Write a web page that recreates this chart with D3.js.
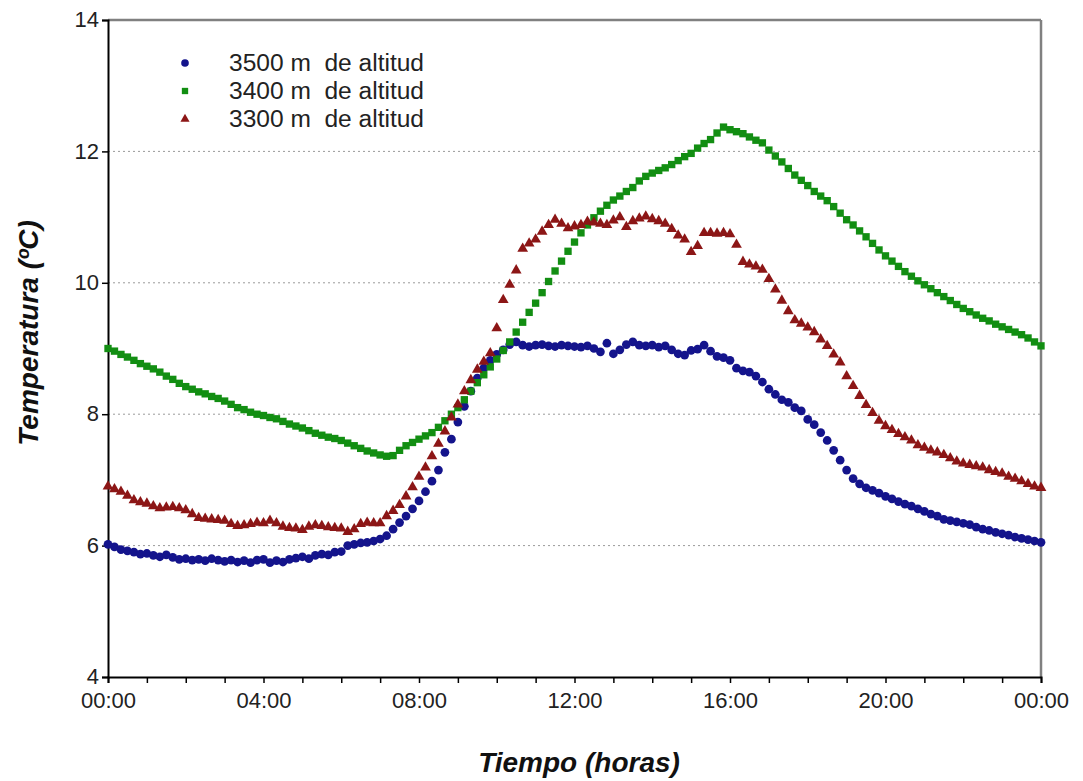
<!DOCTYPE html>
<html>
<head>
<meta charset="utf-8">
<script src="https://cdn.jsdelivr.net/npm/d3@7"></script>
<style>
body { margin: 0; background: #fff; }
svg text { font-family: "Liberation Sans", Arial, sans-serif; fill: #222; }
</style>
</head>
<body>
<svg id="chart" width="1083" height="781"></svg>
<script>
// series names
var seriesNames = ["3500 m  de altitud", "3400 m  de altitud", "3300 m  de altitud"];

// readings every 10 minutes, 00:00 -> 24:00
var stepMinutes = 10;

var t3500 = [6.02,5.98,5.94,5.92,5.90,5.87,5.88,5.85,5.83,5.86,5.82,5.79,5.80,5.78,5.79,5.77,5.80,5.78,5.76,5.78,
	5.75,5.77,5.74,5.78,5.79,5.74,5.77,5.75,5.79,5.81,5.83,5.80,5.85,5.87,5.86,5.90,5.91,6.00,6.02,6.04,
	6.05,6.07,6.10,6.15,6.25,6.35,6.45,6.56,6.68,6.82,6.98,7.15,7.42,7.62,7.88,8.12,8.35,8.55,8.70,8.82,
	8.91,8.98,9.06,9.10,9.05,9.03,9.05,9.06,9.04,9.03,9.05,9.04,9.03,9.02,9.04,9.00,8.95,9.08,8.92,8.98,
	9.06,9.10,9.05,9.04,9.05,9.02,9.04,8.98,8.92,8.90,8.97,8.99,9.05,8.96,8.88,8.86,8.82,8.70,8.66,8.64,
	8.58,8.49,8.38,8.30,8.22,8.18,8.10,8.05,7.92,7.84,7.72,7.60,7.45,7.30,7.15,7.02,6.94,6.88,6.84,6.80,
	6.75,6.71,6.67,6.63,6.60,6.56,6.52,6.48,6.45,6.40,6.38,6.36,6.34,6.32,6.28,6.25,6.23,6.20,6.18,6.16,
	6.13,6.11,6.09,6.07,6.05];

var t3400 = [9.00,8.96,8.91,8.87,8.82,8.77,8.73,8.69,8.64,8.58,8.53,8.47,8.42,8.38,8.34,8.31,8.27,8.24,8.20,8.15,
	8.10,8.07,8.03,8.00,7.98,7.95,7.93,7.89,7.85,7.82,7.79,7.75,7.71,7.68,7.65,7.63,7.60,7.56,7.52,7.48,
	7.44,7.41,7.38,7.36,7.37,7.45,7.52,7.57,7.62,7.67,7.72,7.80,7.90,8.00,8.10,8.22,8.35,8.48,8.60,8.72,
	8.84,8.97,9.10,9.25,9.40,9.55,9.69,9.85,10.02,10.18,10.33,10.48,10.62,10.76,10.88,10.99,11.09,11.18,11.26,11.32,
	11.39,11.45,11.55,11.62,11.67,11.71,11.75,11.80,11.86,11.92,11.97,12.05,12.12,12.18,12.28,12.37,12.33,12.30,12.27,12.22,
	12.17,12.13,12.02,11.93,11.84,11.74,11.64,11.56,11.48,11.39,11.32,11.25,11.16,11.06,10.96,10.88,10.79,10.70,10.60,10.50,
	10.41,10.33,10.25,10.17,10.10,10.03,9.97,9.91,9.85,9.79,9.73,9.67,9.61,9.56,9.51,9.46,9.42,9.37,9.33,9.29,
	9.25,9.21,9.16,9.10,9.04];

var t3300 = [6.90,6.86,6.82,6.76,6.69,6.66,6.64,6.60,6.57,6.58,6.59,6.57,6.54,6.48,6.42,6.41,6.40,6.39,6.38,6.33,
	6.30,6.31,6.33,6.35,6.34,6.38,6.34,6.29,6.27,6.26,6.24,6.29,6.31,6.30,6.28,6.27,6.26,6.21,6.25,6.33,
	6.35,6.34,6.34,6.45,6.53,6.62,6.75,6.89,7.05,7.19,7.36,7.55,7.74,7.95,8.15,8.35,8.52,8.68,8.80,8.93,
	9.31,9.74,9.97,10.19,10.52,10.60,10.66,10.78,10.88,10.96,10.90,10.83,10.86,10.88,10.93,10.92,10.90,10.88,10.95,11.00,
	10.85,10.94,10.98,11.01,10.97,10.94,10.90,10.82,10.72,10.66,10.47,10.56,10.76,10.76,10.75,10.76,10.74,10.58,10.32,10.28,
	10.25,10.20,10.06,9.90,9.73,9.57,9.43,9.38,9.32,9.25,9.14,9.04,8.91,8.79,8.58,8.43,8.28,8.14,8.02,7.90,
	7.82,7.76,7.70,7.65,7.60,7.53,7.49,7.45,7.42,7.38,7.33,7.28,7.25,7.23,7.21,7.19,7.15,7.12,7.10,7.05,
	7.02,6.98,6.94,6.90,6.88];

var seriesColors = ["#14148c", "#128e12", "#8c1616"];
var seriesShapes = [d3.symbolCircle, d3.symbolSquare, d3.symbolTriangle];
var seriesSizes = [60, 54, 50];

var xTicksMajor = [0, 240, 480, 720, 960, 1200, 1440];
var xTickLabels = ["00:00", "04:00", "08:00", "12:00", "16:00", "20:00", "00:00"];
var yTicks = [4, 6, 8, 10, 12, 14];

var svg = d3.select("#chart");
var margin = {top: 20, right: 42, bottom: 104, left: 108};
var width = 1083 - margin.left - margin.right,
	height = 781 - margin.top - margin.bottom;

var x = d3.scaleLinear().domain([0, 1440]).range([0, width]);
var y = d3.scaleLinear().domain([4, 14]).range([height, 0]);

var g = svg.append("g")
	.attr("transform", "translate(" + margin.left + "," + margin.top + ")");

// dotted grid
g.selectAll(".grid")
	.data([6, 8, 10, 12])
	.enter().append("line")
	.attr("class", "grid")
	.attr("x1", 0).attr("x2", width)
	.attr("y1", function(d) { return y(d); })
	.attr("y2", function(d) { return y(d); })
	.attr("stroke", "#9a9a9a")
	.attr("stroke-width", 1)
	.attr("stroke-dasharray", "2,3");

// frame top / right
g.append("line").attr("x1", 0).attr("x2", width).attr("y1", 0).attr("y2", 0)
	.attr("stroke", "#808080").attr("stroke-width", 2.5);
g.append("line").attr("x1", width).attr("x2", width).attr("y1", 0).attr("y2", height)
	.attr("stroke", "#808080").attr("stroke-width", 2.5);

// x axis
var xAxis = g.append("g")
	.attr("transform", "translate(0," + height + ")")
	.call(d3.axisBottom(x)
		.tickValues(d3.range(0, 1441, 60))
		.tickSize(6)
		.tickFormat(function(d) {
			var k = xTicksMajor.indexOf(d);
			return k < 0 ? "" : xTickLabels[k];
		}));
xAxis.select(".domain").attr("stroke", "#000").attr("stroke-width", 2);
xAxis.selectAll(".tick line").attr("stroke", "#000").attr("stroke-width", 1.5);
xAxis.selectAll(".tick text")
	.attr("dy", "0.71em")
	.attr("y", 15)
	.style("font-size", "22px")
	.style("fill", "#222");

// y axis
var yAxis = g.append("g")
	.call(d3.axisLeft(y).tickValues(yTicks).tickSize(6).tickFormat(d3.format("d")));
yAxis.select(".domain").attr("stroke", "#000").attr("stroke-width", 2);
yAxis.selectAll(".tick line").attr("stroke", "#000").attr("stroke-width", 1.5);
yAxis.selectAll(".tick text")
	.attr("x", -9)
	.attr("dy", "0.3em")
	.style("font-size", "22px")
	.style("fill", "#222");

// points
[t3500, t3400, t3300].forEach(function(values, s) {
	g.selectAll(".pt" + s)
		.data(values)
		.enter().append("path")
		.attr("class", "pt" + s)
		.attr("transform", function(d, i) {
			return "translate(" + x(i * stepMinutes) + "," + y(d) + ")";
		})
		.attr("d", d3.symbol().type(seriesShapes[s]).size(seriesSizes[s]))
		.attr("fill", seriesColors[s]);
});

// legend
var legend = svg.append("g").attr("transform", "translate(185,63)");
seriesNames.forEach(function(name, s) {
	var row = legend.append("g").attr("transform", "translate(0," + (s * 28) + ")");
	row.append("path")
		.attr("d", d3.symbol().type(seriesShapes[s]).size(seriesSizes[s] - 14))
		.attr("fill", seriesColors[s]);
	row.append("text")
		.attr("x", 44)
		.attr("y", 8)
		.style("font-size", "23px")
		.attr("xml:space", "preserve")
		.attr("textLength", 195)
		.attr("lengthAdjust", "spacingAndGlyphs")
		.text(name);
});

// axis titles
svg.append("text")
	.attr("x", 579)
	.attr("y", 772)
	.attr("text-anchor", "middle")
	.style("font-size", "28px")
	.style("font-weight", "bold")
	.style("font-style", "italic")
	.style("fill", "#111")
	.text("Tiempo (horas)");

svg.append("text")
	.attr("transform", "translate(38,333) rotate(-90)")
	.attr("text-anchor", "middle")
	.style("font-size", "28px")
	.style("font-weight", "bold")
	.style("font-style", "italic")
	.style("fill", "#111")
	.text("Temperatura (ºC)");
</script>
</body>
</html>
